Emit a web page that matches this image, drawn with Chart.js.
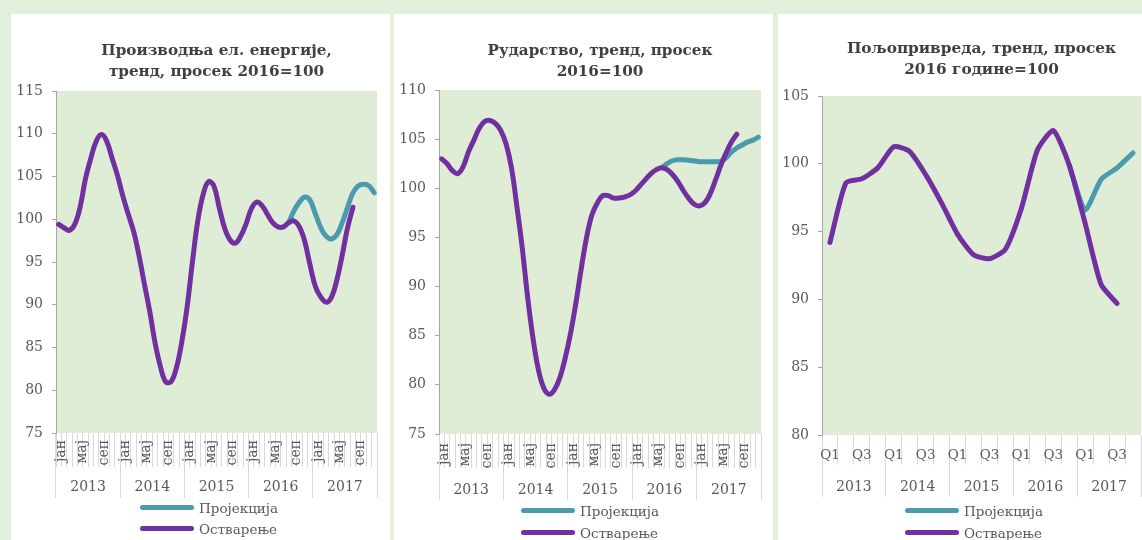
<!DOCTYPE html>
<html><head><meta charset="utf-8">
<script src="https://cdn.jsdelivr.net/npm/chart.js@4.4.0/dist/chart.umd.min.js"></script>
<style>
html,body{margin:0;padding:0;}
body{width:1142px;height:540px;background:#e2efda;position:relative;overflow:hidden;font-family:"DejaVu Serif",serif;}
.panel{position:absolute;background:#ffffff;overflow:hidden;}
.panel canvas{position:absolute;left:0;top:0;}
.item{position:absolute;white-space:nowrap;height:20px;line-height:20px;font-size:13.5px;color:#595959;}
.swatch{position:absolute;top:7px;width:54px;height:5px;border-radius:3px;}
.item span.t{position:absolute;top:0;}
</style></head>
<body>
<div class="panel" style="left:11px;top:14px;width:379px;height:526px"><canvas id="c1" width="379" height="526"></canvas></div>
<div class="panel" style="left:394px;top:14px;width:379px;height:526px"><canvas id="c2" width="379" height="526"></canvas></div>
<div class="panel" style="left:778px;top:14px;width:364px;height:526px"><canvas id="c3" width="364" height="526"></canvas></div>
<div id="legends"></div>
<script>
// ---- data ----
const monthNames = ['јан','феб','мар','апр','мај','јун','јул','авг','сеп','окт','нов','дец'];
const quarterNames = ['Q1','Q2','Q3','Q4'];
const years = ['2013','2014','2015','2016','2017'];
const seriesNames = ['Пројекција','Остварење'];

const elecTitle = ['Производња ел. енергије,','тренд, просек 2016=100'];
const miningTitle = ['Рударство, тренд, просек','2016=100'];
const agriTitle = ['Пољопривреда, тренд, просек','2016 године=100'];

const elecActual = [99.4,99.0,98.7,99.4,101.4,104.7,107.1,109.1,109.9,109.1,107.1,105.1,
  102.7,100.6,98.6,95.8,92.5,89.3,85.6,82.8,81.0,81.0,82.6,85.6,
  89.7,95.0,99.8,102.9,104.4,103.9,101.4,99.0,97.6,97.2,98.0,99.4,
  101.2,102.0,101.6,100.6,99.6,99.1,99.1,99.6,99.8,99.1,97.4,94.6,
  92.1,90.9,90.3,90.9,92.9,95.8,99.0,101.4,null,null,null,null];
const elecProjection = [null,null,null,null,null,null,null,null,null,null,null,null,
  null,null,null,null,null,null,null,null,null,null,null,null,
  null,null,null,null,null,null,null,null,null,null,null,null,
  null,null,null,null,null,null,null,99.6,101.0,102.0,102.6,102.2,
  100.6,99.0,98.0,97.7,98.2,99.6,101.4,103.1,103.9,104.1,103.9,103.1];

const miningActual = [103.0,102.5,101.8,101.5,102.2,103.7,104.9,106.1,106.8,106.9,106.6,105.9,
  104.5,102.1,98.2,94.0,89.0,84.8,81.6,79.7,79.05,79.5,80.7,82.7,
  85.2,88.3,91.8,95.0,97.3,98.5,99.25,99.25,99.0,99.0,99.1,99.3,
  99.7,100.3,100.9,101.5,101.9,102.1,101.9,101.4,100.7,99.8,99.0,98.4,
  98.2,98.5,99.4,100.8,102.3,103.6,104.7,105.5,null,null,null,null];
const miningProjection = [null,null,null,null,null,null,null,null,null,null,null,null,
  null,null,null,null,null,null,null,null,null,null,null,null,
  null,null,null,null,null,null,null,null,null,null,null,null,
  null,null,null,null,null,102.1,102.5,102.8,102.9,102.9,102.85,102.8,
  102.7,102.7,102.7,102.7,102.75,103.1,103.7,104.1,104.4,104.7,104.9,105.2];

const agriActual = [94.2,98.6,98.9,99.7,101.25,100.9,99.2,97.1,94.8,93.3,93.0,93.7,
  96.7,101.0,102.45,99.9,95.6,91.1,89.7,null];
const agriProjection = [null,null,null,null,null,null,null,null,null,null,null,null,
  null,null,null,99.9,96.6,98.85,99.7,100.8];

const monthLabels = years.flatMap(() => monthNames);
const quarterLabels = years.flatMap(() => quarterNames);

// ---- style ----
const FONT = '"DejaVu Serif", serif';
const TXT = '#595959', TITLE = '#404040', GRID = '#d9d9d9', AXIS = '#a6a6a6';
const PLOT = '#dfecd6', PURPLE = '#7030a0', TEAL = '#4b9aad';
const LH = 21.5;

const plotBg = {id:'plotBg', beforeDraw(chart){
  const {ctx, chartArea:a} = chart;
  ctx.save(); ctx.fillStyle = PLOT; ctx.fillRect(a.left, a.top, a.right-a.left, a.bottom-a.top); ctx.restore();
}};

function flatAxis(s){ s.height = 0; s._computeLabelArea = () => undefined; }

function makeChart(id, o){
  const line = (label, data, color, order) => ({label, data, borderColor:color, backgroundColor:color,
    borderWidth:5, pointRadius:0, tension:o.tension, fill:false, order,
    borderCapStyle:'round', borderJoinStyle:'round'});
  return new Chart(document.getElementById(id), {
    type:'line',
    data:{labels:o.labels, datasets:[
      line(seriesNames[0], o.projection, TEAL, 1),
      line(seriesNames[1], o.actual, PURPLE, 0)
    ]},
    options:{
      responsive:false, animation:false, events:[],
      layout:{padding:{left:0, top:0, right:o.W-o.R, bottom:o.H-o.B}},
      plugins:{
        legend:{display:false}, tooltip:{enabled:false},
        title:{display:true, text:o.title, fullSize:false, color:TITLE,
          font:{family:FONT, size:o.tSize, weight:'bold', lineHeight:LH/o.tSize},
          padding:{top:o.tTop, bottom:o.T - o.tTop - 2*LH}}
      },
      scales:{
        x:{type:'category', offset:true, afterFit:flatAxis,
          grid:{offset:true, drawOnChartArea:false, drawTicks:true, tickLength:o.tickLen, color:GRID},
          border:{display:false},
          ticks:{autoSkip:false, minRotation:o.rot, maxRotation:o.rot, padding:o.lblPad,
            labelOffset:o.lblOff, font:{family:FONT, size:o.lblSize}, color:TXT,
            callback(v,i){ return i % o.every === 0 ? this.getLabelForValue(v) : ''; }}},
        x2:{type:'category', labels:years, position:'bottom', offset:true, afterFit:flatAxis,
          grid:{offset:true, drawOnChartArea:false, drawTicks:true, tickLength:o.yearLen, color:GRID},
          border:{display:false},
          ticks:{autoSkip:false, maxRotation:0, minRotation:0, padding:o.yearPad,
            font:{family:FONT, size:14}, color:TXT}},
        y:{min:o.min, max:o.max, afterFit(s){s.width=o.L;},
          ticks:{stepSize:5, padding:9, font:{family:FONT, size:14}, color:TXT},
          grid:{drawOnChartArea:false, drawTicks:true, tickLength:4, color:AXIS},
          border:{display:true, color:AXIS, width:1}}
      }
    },
    plugins:[plotBg]
  });
}

makeChart('c1', {W:379,H:526,L:45,R:366,T:77,B:419,tTop:26.25,tSize:15.2,title:elecTitle,
  labels:monthLabels, actual:elecActual, projection:elecProjection, min:75, max:115,
  tickLen:34, lblPad:-27, lblOff:2.5, lblSize:14, rot:90, every:4, yearLen:65, yearPad:-19.4, tension:0.4});
makeChart('c2', {W:379,H:526,L:45,R:367,T:76,B:420,tTop:26,tSize:15.2,title:miningTitle,
  labels:monthLabels, actual:miningActual, projection:miningProjection, min:75, max:110,
  tickLen:34, lblPad:-25, lblOff:2.5, lblSize:14, rot:90, every:4, yearLen:66, yearPad:-18.4, tension:0.4});
makeChart('c3', {W:364,H:526,L:44,R:363,T:82,B:421,tTop:24,tSize:15.3,title:agriTitle,
  labels:quarterLabels, actual:agriActual, projection:agriProjection, min:80, max:105,
  tickLen:30, lblPad:-18.1, lblOff:0, lblSize:13.5, rot:0, every:2, yearLen:62, yearPad:-18.4, tension:0.2});

// ---- legends (HTML) ----
const legendSpots = [
  {x:140, rows:[508,529]},
  {x:521, rows:[510.7,533]},
  {x:905, rows:[510.7,533]}
];
const host = document.getElementById('legends');
legendSpots.forEach(s => {
  [TEAL, PURPLE].forEach((c, k) => {
    const d = document.createElement('div');
    d.className = 'item';
    d.style.left = s.x + 'px';
    d.style.top = (s.rows[k] - 10) + 'px';
    d.innerHTML = '<div class="swatch" style="left:0;background:' + c + '"></div><span class="t" style="left:59px">' + seriesNames[k] + '</span>';
    host.appendChild(d);
  });
});
</script>
</body></html>
